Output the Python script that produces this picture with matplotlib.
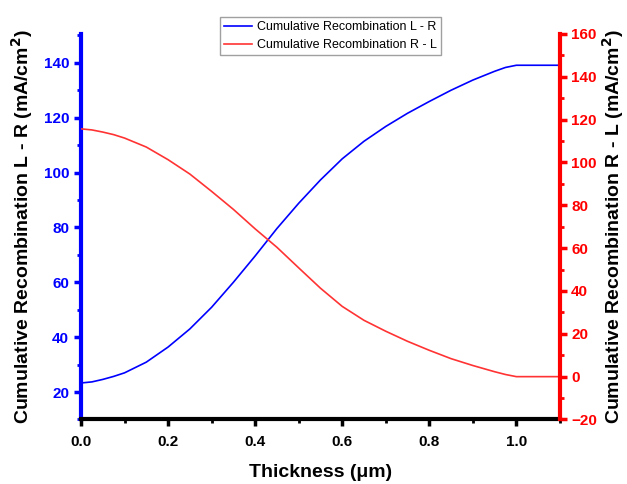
import numpy as np
import matplotlib.pyplot as plt
from matplotlib.ticker import MultipleLocator

plt.rcParams['font.family'] = ['Liberation Sans', 'DejaVu Sans']

# Thickness (um) and cumulative recombination curves (mA/cm^2)
thickness = [0.0, 0.025, 0.05, 0.075, 0.1, 0.15, 0.2, 0.25, 0.3, 0.35, 0.4, 0.45, 0.5,
             0.55, 0.6, 0.65, 0.7, 0.75, 0.8, 0.85, 0.9, 0.95, 0.975, 1.0, 1.05, 1.1]
recomb_lr = [23.3, 23.7, 24.6, 25.7, 27.0, 30.9, 36.4, 43.0, 50.9, 60.0, 69.6, 79.6, 88.8,
             97.3, 105.0, 111.4, 116.8, 121.6, 125.9, 130.0, 133.7, 136.9, 138.3, 139.1, 139.1, 139.1]
recomb_rl = [115.7, 115.2, 114.2, 113.0, 111.4, 107.2, 101.3, 94.6, 86.5, 78.1, 69.0, 60.4, 50.8,
             41.3, 32.8, 26.3, 21.2, 16.5, 12.3, 8.4, 5.2, 2.3, 1.0, 0.0, 0.0, 0.0]

blue = '#0000ff'
red = '#ff0000'

fig = plt.figure(figsize=(6.27, 4.84), dpi=100)
ax = fig.add_axes([0.1292, 0.1333, 0.7638, 0.7965])
ax2 = ax.twinx()

l1, = ax.plot(thickness, recomb_lr, color=blue, lw=1.2, label='Cumulative Recombination L - R')
l2, = ax2.plot(thickness, recomb_rl, color='#ff3333', lw=1.2, label='Cumulative Recombination R - L')

ax.set_xlim(0, 1.1)
ax.set_ylim(10, 150.5)
ax2.set_ylim(-20, 160)

ax.xaxis.set_major_locator(MultipleLocator(0.2))
ax.xaxis.set_minor_locator(MultipleLocator(0.1))
ax.yaxis.set_major_locator(MultipleLocator(20))
ax.yaxis.set_minor_locator(MultipleLocator(10))
ax2.yaxis.set_major_locator(MultipleLocator(20))
ax2.yaxis.set_minor_locator(MultipleLocator(10))

for a in (ax, ax2):
    a.spines['top'].set_visible(False)
ax.spines['right'].set_visible(False)
ax2.spines['left'].set_visible(False)
ax2.spines['bottom'].set_visible(False)

ax.spines['left'].set_color(blue)
ax.spines['left'].set_linewidth(3)
ax.spines['bottom'].set_linewidth(3)
ax2.spines['right'].set_color(red)
ax2.spines['right'].set_linewidth(3)

ax.tick_params(axis='x', which='major', length=5, width=2.5, labelsize=11, pad=6)
ax.tick_params(axis='x', which='minor', length=3, width=2)
ax.tick_params(axis='y', which='major', length=5, width=2.5, color=blue, labelcolor=blue, labelsize=11)
ax.tick_params(axis='y', which='minor', length=3, width=2, color=blue)
ax2.tick_params(axis='y', which='major', length=5, width=2.5, color=red, labelcolor=red, labelsize=11, pad=3)
ax2.tick_params(axis='y', which='minor', length=3, width=2, color=red)

for lab in ax.get_xticklabels() + ax.get_yticklabels() + ax2.get_yticklabels():
    lab.set_fontweight('bold')

ax.set_xlabel('Thickness (\u03bcm)', fontsize=14, fontweight='bold', labelpad=11)
ax.set_ylabel('Cumulative Recombination L - R (mA/cm$^\\mathbf{2}$)', fontsize=14, fontweight='bold', labelpad=6)
ax2.set_ylabel('Cumulative Recombination R - L (mA/cm$^\\mathbf{2}$)', fontsize=14, fontweight='bold', labelpad=2)

fig.legend(handles=[l1, l2], loc='upper center', bbox_to_anchor=(0.527, 0.978),
           fontsize=9, frameon=True, fancybox=False, edgecolor='#888888',
           handlelength=2.2, handletextpad=0.4, borderpad=0.35, labelspacing=0.45)

fig.savefig('out.png', dpi=100)
